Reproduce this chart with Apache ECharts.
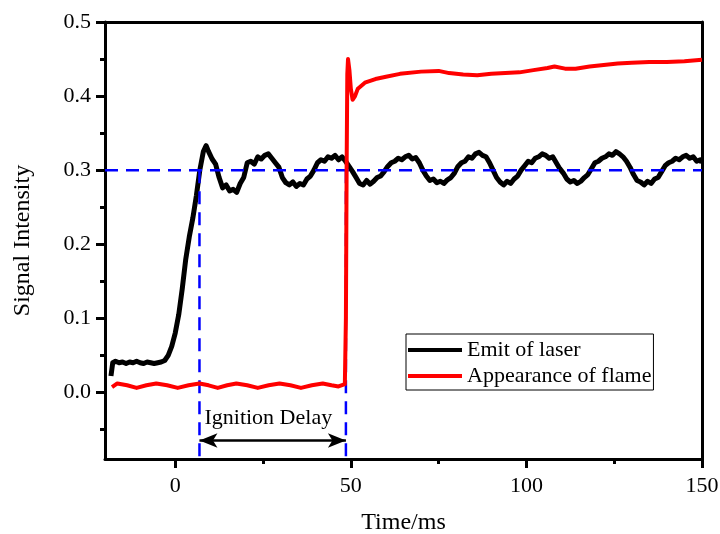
<!DOCTYPE html>
<html>
<head>
<meta charset="utf-8">
<script src="https://cdn.jsdelivr.net/npm/echarts@6/dist/echarts.min.js"></script>
<style>
  html, body { margin: 0; background: #fff; }
  #chart { width: 720px; height: 534px; }
</style>
</head>
<body>
<div id="chart"></div>
<script>
// laser emission signal (black)
const laserTime = [
  -18.3, -17.8, -17, -16, -15, -14, -13, -12, -11, -10, -9, -8, -7, -6, -5, -4, -3, -2, -1, 0,
  1, 2, 3, 4, 5, 6, 7, 8, 8.8, 9.5, 10.5, 11.5, 12.5, 13.5, 14.5, 15.5, 16.5, 17.5, 18.5, 19.5,
  20.5, 21.5, 22.5, 23.5, 24.5, 25.5, 26.5, 27.5, 28.5, 29.5, 30.5, 31.5, 32.5, 33.5, 34.5, 35.5,
  36.5, 37.5, 38.5, 39.5, 40.5, 41.5, 42.5, 43.5, 44.5, 45.5, 46.5, 47.5, 48.5, 49.5, 50.5, 51.5,
  52.5, 53.5, 54.5, 55.5, 56.5, 57.5, 58.5, 59.5, 60.5, 61.5, 62.5, 63.5, 64.5, 65.5, 66.5, 67.5,
  68.5, 69.5, 70.5, 71.5, 72.5, 73.5, 74.5, 75.5, 76.5, 77.5, 78.5, 79.5, 80.5, 81.5, 82.5, 83.5,
  84.5, 85.5, 86.5, 87.5, 88.5, 89.5, 90.5, 91.5, 92.5, 93.5, 94.5, 95.5, 96.5, 97.5, 98.5, 99.5,
  100.5, 101.5, 102.5, 103.5, 104.5, 105.5, 106.5, 107.5, 108.5, 109.5, 110.5, 111.5, 112.5, 113.5,
  114.5, 115.5, 116.5, 117.5, 118.5, 119.5, 120.5, 121.5, 122.5, 123.5, 124.5, 125.5, 126.5, 127.5,
  128.5, 129.5, 130.5, 131.5, 132.5, 133.5, 134.5, 135.5, 136.5, 137.5, 138.5, 139.5, 140.5, 141.5,
  142.5, 143.5, 144.5, 145.5, 146.5, 147.5, 148.5, 149.5, 150
];
const laserValue = [
  0.022, 0.040, 0.042, 0.040, 0.041, 0.039, 0.041, 0.040, 0.042, 0.040, 0.039, 0.041, 0.040, 0.039, 0.040, 0.041, 0.043, 0.050, 0.062, 0.080,
  0.105, 0.140, 0.180, 0.210, 0.235, 0.265, 0.300, 0.325, 0.333, 0.325, 0.315, 0.308, 0.290, 0.276, 0.280, 0.272, 0.274, 0.270, 0.282, 0.290,
  0.310, 0.312, 0.308, 0.318, 0.315, 0.320, 0.322, 0.316, 0.310, 0.304, 0.290, 0.283, 0.280, 0.284, 0.278, 0.282,
  0.280, 0.288, 0.292, 0.300, 0.310, 0.314, 0.312, 0.318, 0.316, 0.320, 0.314, 0.318, 0.312, 0.305, 0.298, 0.290,
  0.282, 0.280, 0.286, 0.281, 0.285, 0.290, 0.292, 0.298, 0.305, 0.310, 0.312, 0.316, 0.314, 0.318, 0.320, 0.315,
  0.317, 0.310, 0.300, 0.292, 0.286, 0.288, 0.283, 0.285, 0.282, 0.287, 0.290, 0.296, 0.305, 0.310, 0.312, 0.318,
  0.316, 0.322, 0.324, 0.320, 0.318, 0.310, 0.300, 0.290, 0.284, 0.280, 0.285, 0.282, 0.288, 0.292, 0.300, 0.306,
  0.312, 0.310, 0.316, 0.318, 0.322, 0.320, 0.316, 0.318, 0.310, 0.302, 0.296, 0.288, 0.284, 0.286,
  0.282, 0.285, 0.290, 0.294, 0.302, 0.310, 0.312, 0.316, 0.318, 0.322, 0.320, 0.325, 0.322, 0.318,
  0.312, 0.304, 0.294, 0.286, 0.284, 0.280, 0.285, 0.282, 0.288, 0.290, 0.298, 0.306, 0.310, 0.312,
  0.316, 0.314, 0.318, 0.320, 0.316, 0.318, 0.312, 0.314, 0.310
];

// flame emission signal (red)
const flameTime = [
  -18, -16.5, -13.7, -11, -8.2, -5.4, -2.3, 0.7, 3.8, 6.9, 9.5, 12.1, 14.8, 17.4, 20.5, 23.5, 26.6,
  29.7, 32.8, 35.8, 38.9, 42, 44.5, 46.5, 48.3, 48.6, 48.8, 49.0, 49.2, 49.6, 50.0, 50.5, 51.2, 52,
  54, 57, 60, 64, 70, 75, 78, 82, 86, 90, 94, 98, 102, 106, 108, 111, 114, 118, 122, 126, 130, 135,
  140, 145, 150
];
const flameValue = [
  0.007, 0.012, 0.0095, 0.006, 0.0095, 0.012, 0.0095, 0.006, 0.0095, 0.012, 0.0095, 0.006, 0.0095, 0.012, 0.0095, 0.006, 0.0095,
  0.012, 0.0095, 0.006, 0.0095, 0.012, 0.0095, 0.008, 0.011, 0.100, 0.300, 0.430, 0.450, 0.435, 0.410, 0.395, 0.400, 0.410,
  0.418, 0.423, 0.426, 0.430, 0.433, 0.434, 0.431, 0.429, 0.428, 0.430, 0.431, 0.432, 0.435, 0.438, 0.440, 0.437, 0.437, 0.440, 0.442, 0.444, 0.445, 0.446,
  0.446, 0.447, 0.449
];

// reference guides
const thresholdLevel = 0.3;
const ignitionStart = 6.9;
const ignitionEnd = 48.6;
const arrowLevel = -0.065;
const delayLabelPos = [26.5, -0.035];

// axes
const xMin = -20, xMax = 150;
const yMin = -0.09, yMax = 0.5;
const xMajorTicks = [0, 50, 100, 150];
const xMinorTicks = [25, 75, 125];
const yMajorTicks = [0, 0.1, 0.2, 0.3, 0.4, 0.5];
const yMinorTicks = [-0.05, 0.05, 0.15, 0.25, 0.35, 0.45];

const FONT = 'Liberation Serif';
const BLUE = '#0000ff';
const dashed = { color: BLUE, width: 2.5, type: [13, 8] };
const axisLine = { show: true, onZero: false, lineStyle: { color: '#000', width: 3 } };
const noLine = { show: false, onZero: false };
const tickStyle = { color: '#000', width: 3 };
const hidden = { show: false };

const zip = (xs, ys) => xs.map((x, i) => [x, ys[i]]);

const chart = echarts.init(document.getElementById('chart'));

chart.setOption({
  animation: false,
  grid: { left: 105, right: 18, top: 22, bottom: 75, outerBoundsMode: 'none' },
  legend: {
    data: ['Emit of laser', 'Appearance of flame'],
    orient: 'vertical',
    left: 406,
    top: 334,
    icon: 'rect',
    itemWidth: 54,
    itemHeight: 4,
    itemGap: 4,
    padding: [5, 2, 3, 2],
    borderColor: '#000',
    borderWidth: 1,
    textStyle: { fontFamily: FONT, fontSize: 22, color: '#000' },
  },
  xAxis: [{
    type: 'value',
    min: xMin,
    max: xMax,
    position: 'bottom',
    name: 'Time/ms',
    nameLocation: 'middle',
    nameGap: 52,
    nameTextStyle: { fontFamily: FONT, fontSize: 24, color: '#000' },
    axisLine,
    axisTick: { customValues: xMajorTicks, length: 9, lineStyle: tickStyle },
    axisLabel: { customValues: xMajorTicks, fontFamily: FONT, fontSize: 22, color: '#000', margin: 16 },
    splitLine: hidden,
  }, {
    type: 'value',
    min: xMin,
    max: xMax,
    position: 'bottom',
    axisLine: noLine,
    axisTick: { customValues: xMinorTicks, length: 5, lineStyle: tickStyle },
    axisLabel: hidden,
    splitLine: hidden,
  }, {
    type: 'value',
    min: xMin,
    max: xMax,
    position: 'top',
    axisLine,
    axisTick: hidden,
    axisLabel: hidden,
    splitLine: hidden,
  }],
  yAxis: [{
    type: 'value',
    min: yMin,
    max: yMax,
    position: 'left',
    name: 'Signal Intensity',
    nameLocation: 'middle',
    nameGap: 70,
    nameTextStyle: { fontFamily: FONT, fontSize: 24, color: '#000' },
    axisLine,
    axisTick: { customValues: yMajorTicks, length: 9, lineStyle: tickStyle },
    axisLabel: {
      customValues: yMajorTicks,
      formatter: v => v.toFixed(1),
      fontFamily: FONT, fontSize: 22, color: '#000', margin: 14,
    },
    splitLine: hidden,
  }, {
    type: 'value',
    min: yMin,
    max: yMax,
    position: 'left',
    axisLine: noLine,
    axisTick: { customValues: yMinorTicks, length: 5, lineStyle: tickStyle },
    axisLabel: hidden,
    splitLine: hidden,
  }, {
    type: 'value',
    min: yMin,
    max: yMax,
    position: 'right',
    axisLine,
    axisTick: hidden,
    axisLabel: hidden,
    splitLine: hidden,
  }],
  series: [
    {
      name: 'Emit of laser',
      type: 'line',
      data: zip(laserTime, laserValue),
      showSymbol: false,
      color: '#000',
      lineStyle: { color: '#000', width: 5, join: 'round' },
      z: 2,
    },
    {
      name: 'threshold',
      type: 'line',
      data: [[xMin, thresholdLevel], [xMax, thresholdLevel]],
      showSymbol: false,
      lineStyle: dashed,
      z: 3,
    },
    {
      name: 'start',
      type: 'line',
      data: [[ignitionStart, thresholdLevel], [ignitionStart, yMin]],
      showSymbol: false,
      lineStyle: dashed,
      z: 3,
    },
    {
      name: 'end',
      type: 'line',
      data: [[ignitionEnd, thresholdLevel], [ignitionEnd, yMin]],
      showSymbol: false,
      lineStyle: dashed,
      z: 3,
      markLine: {
        silent: true,
        symbol: ['arrow', 'arrow'],
        symbolSize: [11, 18],
        label: { show: false },
        lineStyle: { color: '#000', width: 2.5, type: 'solid' },
        data: [[{ coord: [ignitionStart, arrowLevel] }, { coord: [ignitionEnd, arrowLevel] }]],
      },
    },
    {
      name: 'delay label',
      type: 'scatter',
      data: [delayLabelPos],
      symbolSize: 0,
      itemStyle: { opacity: 1 },
      label: {
        show: true,
        position: 'inside',
        formatter: 'Ignition Delay',
        fontFamily: FONT,
        fontSize: 22,
        color: '#000',
      },
      z: 5,
    },
    {
      name: 'Appearance of flame',
      type: 'line',
      data: zip(flameTime, flameValue),
      showSymbol: false,
      color: '#ff0000',
      lineStyle: { color: '#ff0000', width: 4, join: 'round' },
      z: 4,
    },
  ],
});
</script>
</body>
</html>
